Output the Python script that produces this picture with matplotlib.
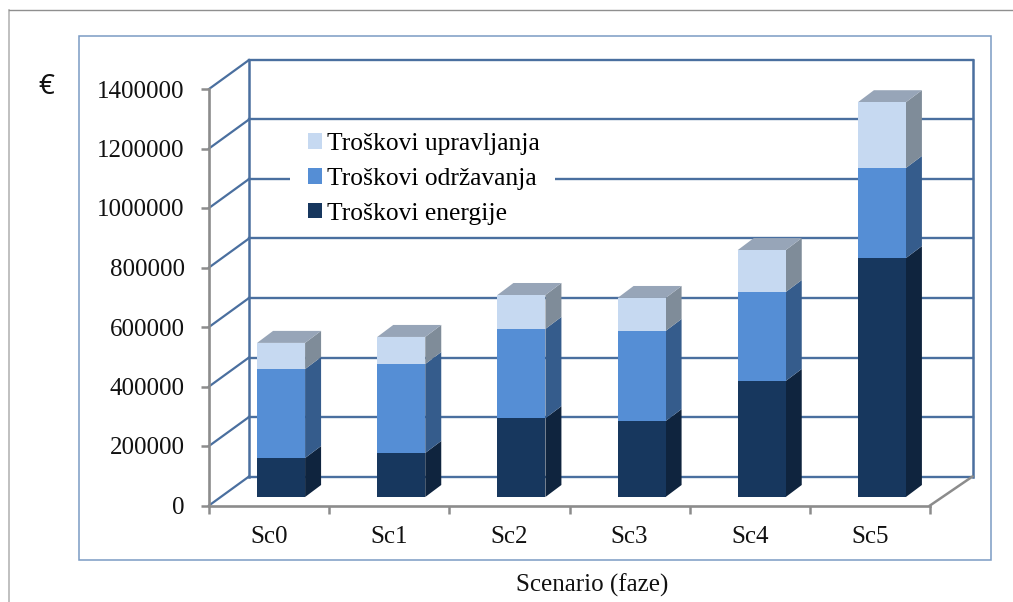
import matplotlib
matplotlib.use("Agg")
import matplotlib.pyplot as plt
from matplotlib.lines import Line2D
from matplotlib.patches import Patch, Polygon, Rectangle
import numpy as np

scenarios = ["Sc0", "Sc1", "Sc2", "Sc3", "Sc4", "Sc5"]
energy = [131000, 148000, 265000, 255000, 390000, 803000]
maintenance = [299000, 299000, 300000, 303000, 299000, 303000]
management = [88000, 91000, 114000, 111000, 141000, 221000]
y_ticks = [0, 200000, 400000, 600000, 800000, 1000000, 1200000, 1400000]

W, H = 1013, 602
plt.rcParams["font.family"] = ["Liberation Serif"]

fig = plt.figure(figsize=(W / 100, H / 100), dpi=100)
ax = fig.add_axes([209 / W, (H - 505.5) / H, 721 / W, 416.5 / H])
ax.set_xlim(0, 6)
ax.set_ylim(0, 1400000)
ax.patch.set_alpha(0)

# pixels -> data units for the fake 3d depth
px_x = 6 / 721
px_y = 1400000 / 416.5
wall_dx, wall_dy = 40 * px_x, 29 * px_y
wall_right = 6 + 42.5 * px_x
bar_dx, bar_dy = 16 * px_x, 12 * px_y
base_dx, base_dy = 12 * px_x, 8.5 * px_y
bar_width = 48 * px_x

grid_col = "#4a6f9f"
axis_col = "#8c8c8c"

# back wall and left wall
for v in y_ticks:
    ax.plot([wall_dx, wall_right], [v + wall_dy] * 2, color=grid_col, lw=1.7, clip_on=False, zorder=1)
    ax.plot([0, wall_dx], [v, v + wall_dy], color=grid_col, lw=1.6, clip_on=False, zorder=1)
ax.plot([wall_dx, wall_dx], [wall_dy, 1400000 + wall_dy], color=grid_col, lw=1.8, clip_on=False, zorder=1)
ax.plot([wall_right, wall_right], [wall_dy, 1400000 + wall_dy], color=grid_col, lw=1.8, clip_on=False, zorder=1)
ax.plot([6, wall_right], [0, wall_dy], color=axis_col, lw=1.8, clip_on=False, zorder=1)

series = [
    (energy, "#17375e", "#0f243e", "Troškovi energije"),
    (maintenance, "#558ed5", "#355c8c", "Troškovi održavanja"),
    (management, "#c6d9f1", "#7f8c99", "Troškovi upravljanja"),
]

x = np.arange(len(scenarios)) + 0.5 + base_dx
bottom = np.full(len(scenarios), float(base_dy))
for vals, front, side, name in series:
    vals = np.array(vals, dtype=float)
    ax.bar(x, vals, width=bar_width, bottom=bottom, color=front, clip_on=False, zorder=3, linewidth=0)
    for xi, b, v in zip(x, bottom, vals):
        r = xi + bar_width / 2
        ax.add_patch(Polygon([(r, b), (r + bar_dx, b + bar_dy), (r + bar_dx, b + v + bar_dy), (r, b + v)],
                             closed=True, facecolor=side, edgecolor="none", clip_on=False, zorder=2.5))
    bottom = bottom + vals

# top caps
for xi, t in zip(x, bottom):
    l = xi - bar_width / 2
    r = xi + bar_width / 2
    ax.add_patch(Polygon([(l, t), (l + bar_dx, t + bar_dy), (r + bar_dx, t + bar_dy), (r, t)],
                         closed=True, facecolor="#97a5b8", edgecolor="none", clip_on=False, zorder=2.5))

for s in ["top", "right"]:
    ax.spines[s].set_visible(False)
for s in ["left", "bottom"]:
    ax.spines[s].set_color(axis_col)
    ax.spines[s].set_linewidth(1.9)
    ax.spines[s].set_zorder(4)

ax.set_yticks(y_ticks)
ax.set_yticklabels([str(v) for v in y_ticks], fontsize=18, color="#111111")
ax.set_xticks(range(7))
ax.set_xticklabels([])
ax.set_xticks(np.arange(len(scenarios)) + 0.5, scenarios, minor=True, fontsize=18, color="#111111")
ax.tick_params(axis="y", length=5.5, width=1.8, color=axis_col, pad=12)
ax.tick_params(axis="x", which="major", length=5.5, width=1.8, color=axis_col)
ax.tick_params(axis="x", which="minor", length=0, pad=15)

# white patch behind the legend breaks only the 1000000 gridline
ax.add_patch(Rectangle((290 / W, (H - 192) / H), 265 / W, 28 / H, transform=fig.transFigure,
                       facecolor="white", edgecolor="none", clip_on=False, zorder=1.5))
handles = [Patch(facecolor=f, label=n) for _, f, _, n in reversed(series)]
leg = ax.legend(handles=handles, loc="center left", bbox_to_anchor=(308 / W, (H - 179) / H),
                bbox_transform=fig.transFigure, frameon=False,
                fontsize=18.4, handlelength=0.55, handleheight=0.55, handletextpad=0.2, labelspacing=0.5,
                borderpad=0, borderaxespad=0)
leg.set_zorder(2)

# outer frames
fig.add_artist(Line2D([9 / W, 9 / W], [0, (H - 10) / H], color="#b5b5b5", lw=1.2))
fig.add_artist(Line2D([9 / W, 1], [(H - 10) / H] * 2, color="#8f8f8f", lw=1))
fig.add_artist(Rectangle((78.5 / W, (H - 560) / H), 912 / W, 524 / H, fill=False, edgecolor="#7a9bc4", lw=1.1))

fig.text(46 / W, (H - 87) / H, "€", family="Noto Sans", fontweight="medium", fontsize=20, ha="center", va="center", color="#111111")
fig.text(592 / W, (H - 585) / H, "Scenario (faze)", fontsize=18, ha="center", va="center", color="#111111")

fig.savefig("out.png", dpi=100)
